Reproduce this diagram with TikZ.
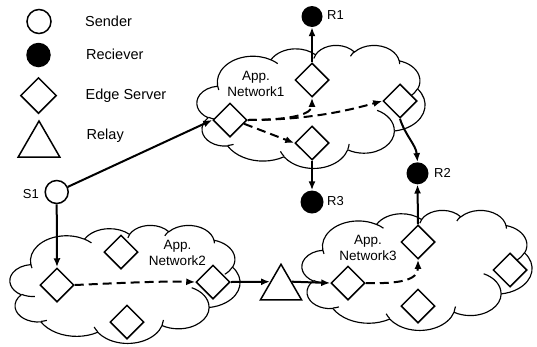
\documentclass[tikz,border=0pt]{standalone}
\usepackage{fontspec}
\setmainfont{Liberation Sans}
\usetikzlibrary{shapes.geometric,arrows.meta,calc}

\tikzset{
  % elliptic arc given by visual start angle and sweep (cloud outline)
  oarc/.style n args={4}{x radius=#1, y radius=#2,
    start angle={atan2((#1)*sin(#3),(#2)*cos(#3))},
    delta angle={mod(atan2((#1)*sin((#3)+(#4)),(#2)*cos((#3)+(#4)))-atan2((#1)*sin(#3),(#2)*cos(#3))+720,360)}},
  cloudline/.style={line width=1.15pt, line join=round},
  srv/.style={diamond, draw, line width=1.5pt, fill=white, minimum size=34pt, inner sep=0pt},
  sendr/.style={circle, draw, line width=1.5pt, fill=white, minimum size=23pt, inner sep=0pt},
  recv/.style={circle, fill=black, minimum size=22pt, inner sep=0pt},
  relaytri/.style={regular polygon, regular polygon sides=3, draw, line width=1.5pt, fill=white, minimum size=48pt, inner sep=0pt},
  conn/.style={line width=2pt, -{Latex[length=9pt,width=7pt]}},
  dconn/.style={conn, dash pattern=on 9pt off 5pt},
  lgd/.style={inner sep=0pt, anchor=base west, font=\fontsize{14.5}{16}\selectfont},
  tag/.style={inner sep=0pt, font=\fontsize{13}{15}\selectfont},
  netlbl/.style={inner sep=0pt, align=center, font=\fontsize{13.5}{16}\selectfont},
}

\newcommand\drawcloud[4]{%
  \pgfmathsetmacro\cloudsx{#3/432}%
  \pgfmathsetmacro\cloudsy{#4/432}%
  \begin{scope}[shift={(#1,#2)}, x=\cloudsx pt, y=-\cloudsy pt]
    \draw[cloudline, fill=white] (39.00,143.70)
      arc[oarc={67.53}{91.90}{-190.4875}{123.7805}]
      arc[oarc={53.33}{72.67}{-144.1024}{89.9452}]
      arc[oarc={43.65}{59.45}{-145.8079}{99.7230}]
      arc[oarc={48.57}{65.95}{-130.9861}{117.2417}]
      arc[oarc={53.33}{72.73}{-78.7089}{109.0269}]
      arc[oarc={67.75}{92.20}{-46.2673}{130.2690}]
      arc[oarc={57.85}{78.67}{0.6250}{114.0333}]
      arc[oarc={67.52}{92.15}{22.4516}{115.1726}]
      arc[oarc={77.20}{105.43}{66.2426}{75.7110}]
      arc[oarc={43.60}{59.18}{-274.9421}{146.7356}]
      arc[oarc={43.45}{59.45}{-246.8285}{152.5189}]
      -- cycle;
    \draw[cloudline]
      (46.93,261.77) arc[oarc={43.45}{59.45}{86.7420}{26.4295}]
      (69.28,348.99) arc[oarc={43.60}{59.18}{73.6105}{11.4475}]
      (164.78,390.90) arc[oarc={67.52}{92.15}{137.6242}{14.0811}]
      (288.27,347.51) arc[oarc={67.52}{92.15}{6.4533}{15.9984}]
      (341.29,229.54) arc[oarc={57.85}{78.67}{-70.2924}{70.9174}]
      (417.98,153.54) arc[oarc={53.33}{72.73}{30.3180}{27.7515}]
      (383.24,54.26) arc[oarc={48.57}{65.95}{-13.7443}{14.8589}]
      (290.78,39.52) arc[oarc={48.57}{65.95}{-149.1815}{18.1954}]
      (221.41,47.20) arc[oarc={43.65}{59.45}{-163.4943}{17.6864}]
      (140.00,51.92) arc[oarc={67.53}{91.90}{-66.7070}{12.3194}]
      (41.27,157.89) arc[oarc={67.53}{91.90}{157.6544}{11.8582}];
  \end{scope}}

\begin{document}
\begin{tikzpicture}[x=1pt, y=-1pt]
\useasboundingbox (0,0) rectangle (537,346);

% legend
\node[sendr, minimum size=24pt] (lsend) at (39,21.5) {};
\node[recv, minimum size=24.5pt] (lrecv) at (38.5,55) {};
\node[srv, minimum size=36pt] (ledge) at (38.5,95.5) {};
\node[relaytri] (lrelay) at (39,145) {};
\node[lgd] (tsend) at (85,26.5) {Sender};
\node[lgd] (trecv) at (86,59.5) {Reciever};
\node[lgd] (tedge) at (85.5,99.5) {Edge Server};
\node[lgd] (trelay) at (86.5,139.5) {Relay};

% application networks
\drawcloud{197}{45}{228}{123}
\drawcloud{10}{225}{230}{118}
\drawcloud{302}{210}{230}{120}

\node[netlbl] (n1) at (256,84) {App.\\Network1};
\node[netlbl] (n2) at (177.5,252.5) {App.\\Network2};
\node[netlbl] (n3) at (368,247.5) {App.\\Network3};

% edge servers
\node[srv] (d1a) at (230,120) {};
\node[srv] (d1b) at (312,80) {};
\node[srv] (d1c) at (312,143) {};
\node[srv] (d1d) at (400,101) {};
\node[srv] (d2a) at (57,285) {};
\node[srv] (d2b) at (121,252) {};
\node[srv] (d2c) at (213,282) {};
\node[srv] (d2d) at (127,322) {};
\node[srv] (d3a) at (348,283) {};
\node[srv] (d3b) at (418,242) {};
\node[srv] (d3c) at (418,306) {};
\node[srv] (d3d) at (510,270) {};

% sender, relay, receivers
\node[sendr] (s1) at (56.7,192) {};
\node[relaytri, minimum size=47.5pt] (relay) at (281,288) {};
\node[recv, minimum size=21pt] (r1) at (312,16.5) {};
\node[recv] (r2) at (417.5,173.3) {};
\node[recv, minimum size=23pt] (r3) at (312,202) {};

\node[tag, anchor=east] (ts1) at (39,194) {S1};
\node[tag, anchor=west] (tr1) at (327,15.5) {R1};
\node[tag, anchor=west] (tr2) at (434,173) {R2};
\node[tag, anchor=west] (tr3) at (327,201.5) {R3};

% paths
\draw[conn] (s1) -- (d1a.west);
\draw[conn] (s1.south) -- (d2a.north);
\draw[dconn] (d1a.east) .. controls (292,120) and (312,114) .. (d1b.south);
\draw[dconn] (d1a.east) .. controls (310,120) and (350,110) .. (d1d.west);
\draw[dconn] (d1a.-15) -- (d1c.west);
\draw[conn] (d1b.north) -- (r1.south);
\draw[conn] (d1c.south) -- (r3.north);
\draw[conn] (d1d.south) .. controls (405,135) and (416,145) .. (r2.north);
\draw[conn] (d3b.north) -- (r2.south);
\draw[dconn] (d2a.east) .. controls (120,283) and (160,281) .. (d2c.west);
\draw[conn] (d2c.east) -- (relay.side 1);
\draw[conn] (relay.side 3) -- (d3a.west);
\draw[dconn] (d3a.east) .. controls (400,284) and (418,280) .. (d3b.south);
\end{tikzpicture}
\end{document}
